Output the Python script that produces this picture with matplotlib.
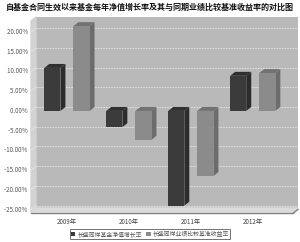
import matplotlib
matplotlib.use('Agg')
import matplotlib.pyplot as plt
from matplotlib.patches import Patch
from matplotlib.transforms import offset_copy

plt.rcParams['font.family'] = ['Noto Sans CJK SC', 'DejaVu Sans']

# data (percent)
years = ['2009年', '2010年', '2011年', '2012年']
fund = [10.9, -4.1, -24.0, 8.9]
bench = [21.5, -7.3, -16.5, 9.6]
yticks = [20, 15, 10, 5, 0, -5, -10, -15, -20, -25]
series_names = ['长盛同祥基金净值增长率', '长盛同祥业绩比较基准收益率']
title = '自基金合同生效以来基金每年净值增长率及其与同期业绩比较基准收益率的对比图'

# 3d look: depth of bars / walls in data units
dx, dy = 0.08, 1.0
w = 0.26
xmin, xmax = -0.58, 3.65
ymin, ymax = -25.6, 22.8

fig = plt.figure(figsize=(3.0, 2.42), dpi=100)
fig.patch.set_facecolor('white')
ax = fig.add_axes([36 / 300, 1 - 208 / 242, 262 / 300, 191 / 242])
ax.set_facecolor('#b9b9b9')
ax.set_xlim(xmin, xmax)
ax.set_ylim(ymin, ymax)
for s in ax.spines.values():
    s.set_visible(False)
ax.set_xticks([])
ax.set_yticks([])

# left wall and floor
ax.fill([xmin - dx, xmin, xmin, xmin - dx], [ymax - dy, ymax, ymin, ymin - dy],
        color='#d2d2d2', clip_on=False, zorder=0)
ax.fill([xmin - dx, xmin, xmax, xmax - dx], [ymin - dy, ymin, ymin, ymin - dy],
        color='#dadada', clip_on=False, zorder=0)
ax.plot([xmin - dx, xmax - dx], [ymin - dy - 0.35, ymin - dy - 0.35], color='#808080',
        lw=1.0, clip_on=False)
ax.plot([xmax - dx, xmax], [ymin - dy - 0.35, ymin - 0.35], color='#808080',
        lw=1.0, clip_on=False)

# grid on back wall + left wall
for v in yticks:
    ax.plot([xmin, xmax], [v, v], color='#e6e6e6', lw=0.6, ls=(0, (2, 1.2)), zorder=1)
    ax.plot([xmin - dx, xmin], [v - dy, v], color='#e6e6e6', lw=0.5, zorder=1, clip_on=False)
    lab = '%.2f%%' % v
    ax.text(xmin - dx, v - dy, lab + ' ', ha='right', va='center', fontsize=4.5,
            color='#555555',
            transform=offset_copy(ax.transData, fig=fig, x=-2, y=0, units='dots'))


def bar3d(xc, v, front, side, top):
    y0, y1 = min(0, v), max(0, v)
    xl_f, xr_f = xc - dx - w / 2, xc - dx + w / 2
    xl_b, xr_b = xc - w / 2, xc + w / 2
    ax.fill([xr_f, xr_f, xr_b, xr_b], [y0 - dy, y1 - dy, y1, y0], color=side, zorder=3, lw=0)
    ax.fill([xl_f, xr_f, xr_b, xl_b], [y1 - dy, y1 - dy, y1, y1], color=top, zorder=3, lw=0)
    ax.bar(xc - dx, v, bottom=-dy, width=w, color=front, zorder=4, lw=0)


off = 0.235
for i in range(len(years)):
    bar3d(i - off, fund[i], '#3b3b3b', '#2c2c2c', '#303030')
    bar3d(i + off, bench[i], '#8b8b8b', '#6c6c6c', '#727272')
    ax.text(i - dx, ymin - dy, years[i], ha='center', va='top', fontsize=4.5,
            color='#444444',
            transform=offset_copy(ax.transData, fig=fig, x=0, y=-6, units='dots'))

fig.text(0.5, 1 - 7 / 242, title, ha='center', va='center', fontsize=5.8,
         fontweight='bold', color='#111111')

handles = [Patch(facecolor='#3b3b3b', edgecolor='none'),
           Patch(facecolor='#8b8b8b', edgecolor='none')]
leg = fig.legend(handles, series_names, loc='center', bbox_to_anchor=(150 / 300, 1 - 234 / 242),
                 ncol=2, fontsize=4.2, frameon=True, fancybox=False, handlelength=0.7,
                 handleheight=0.7, handletextpad=0.3, columnspacing=0.8, borderpad=0.3,
                 labelcolor='#555555')
leg.get_frame().set_edgecolor('#333333')
leg.get_frame().set_linewidth(0.6)

fig.savefig('out.png', dpi=100)
